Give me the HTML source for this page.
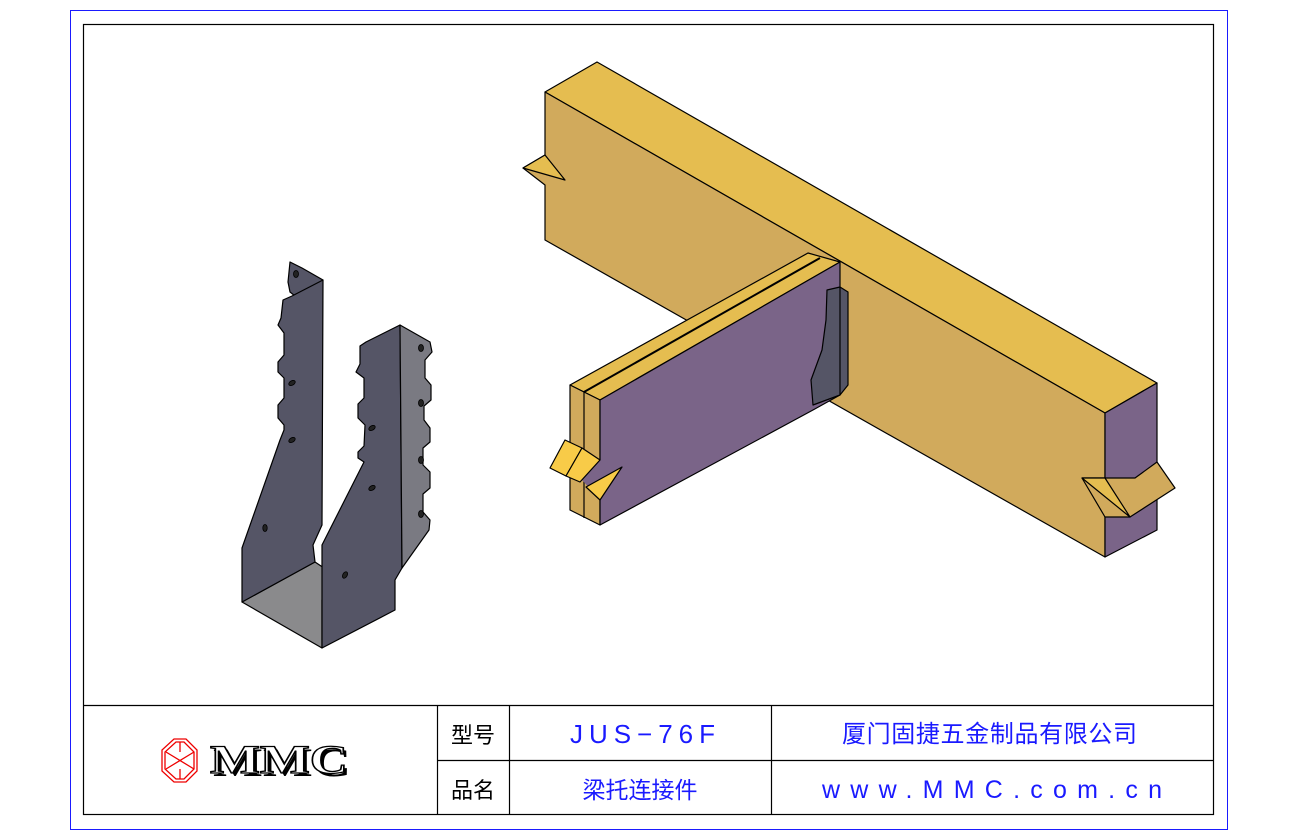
<!DOCTYPE html>
<html><head><meta charset="utf-8"><style>
html,body{margin:0;padding:0;background:#fff;}
svg{display:block;}
.t{font-family:"Liberation Sans","Noto Sans CJK SC",sans-serif;}
</style></head><body>
<svg width="1300" height="840" viewBox="0 0 1300 840" xmlns="http://www.w3.org/2000/svg">
<rect x="70.5" y="10.5" width="1157" height="819" fill="none" stroke="#1a1aff" stroke-width="1"/>
<rect x="83.5" y="24.5" width="1130" height="790" fill="none" stroke="#000" stroke-width="1.2"/>
<g stroke="#000" stroke-width="1.2" fill="none">
<line x1="83" y1="705.5" x2="1214" y2="705.5"/>
<line x1="437" y1="760.5" x2="1214" y2="760.5"/>
<line x1="437.5" y1="705" x2="437.5" y2="815"/>
<line x1="509.5" y1="705" x2="509.5" y2="815"/>
<line x1="771.5" y1="705" x2="771.5" y2="815"/>
</g>
<text class="t" x="473" y="743" font-size="22" text-anchor="middle" fill="#000">型号</text>
<text class="t" x="473" y="798" font-size="22" text-anchor="middle" fill="#000">品名</text>
<text class="t" x="570" y="743" font-size="26" fill="#1a1aff" textLength="145" lengthAdjust="spacing">JUS−76F</text>
<text class="t" x="640" y="798" font-size="23" text-anchor="middle" fill="#1a1aff">梁托连接件</text>
<text class="t" x="842" y="742" font-size="24" fill="#1a1aff" textLength="295" lengthAdjust="spacing">厦门固捷五金制品有限公司</text>
<text class="t" x="822" y="798" font-size="25" fill="#1a1aff" textLength="340" lengthAdjust="spacing">www.MMC.com.cn</text>
<g stroke="#e00" stroke-width="1.3" fill="none">
<polygon points="174,739 186,739 197,750 197,771 186,782 174,782 162,771 162,750"/>
<polygon points="176,742 184,742 194,752 194,769 184,779 176,779 165,769 165,752"/>
<path d="M166,752 L194,769 M194,752 L166,769 M180,742 L180,752 M180,769 L180,779"/>
</g>
<text x="213" y="776" font-family="Liberation Serif,serif" font-weight="bold" font-size="40" fill="#000" textLength="138" lengthAdjust="spacingAndGlyphs">MMC</text>
<text x="210" y="773" font-family="Liberation Serif,serif" font-weight="bold" font-size="40" fill="#fff" stroke="#000" stroke-width="1.3" textLength="138" lengthAdjust="spacingAndGlyphs">MMC</text>
<g stroke="#000" stroke-width="1.2" stroke-linejoin="round">
<polygon points="242,602 315,562 330,572 322,600 322,648" fill="#8a8a8c"/>
<polygon points="290,262 302,268 323,280 312,288 295,296 290,292 288,282" fill="#555566"/>
<polygon points="323,280 292,296 283,300 281,318 278,325 284,333 284,355 278,362 278,372 284,378 284,398 278,405 278,418 284,425 284,430 280,440 242,548 242,602 315,562 313,545 322,525" fill="#555566"/>
<polygon points="400,325 366,342 360,346 360,364 356,372 364,378 364,398 358,404 358,418 365,425 364,446 358,452 358,458 364,462 322,545 322,648 395,610 395,580 402,568" fill="#555566"/>
<polygon points="400,325 430,342 432,352 425,360 425,378 431,385 431,400 424,406 424,420 430,428 430,442 423,448 423,465 430,472 430,488 423,494 423,512 430,520 429,530 402,568" fill="#7a7a82"/>
</g>
<g fill="#222" stroke="#000" stroke-width="0.8">
<ellipse cx="296" cy="274" rx="2.5" ry="3.5"/>
<ellipse cx="292" cy="383" rx="3.5" ry="2.2" transform="rotate(-30 292 383)"/>
<ellipse cx="292" cy="440" rx="3.5" ry="2.2" transform="rotate(-30 292 440)"/>
<ellipse cx="265" cy="528" rx="2.2" ry="3.5"/>
<ellipse cx="372" cy="428" rx="3.5" ry="2.2" transform="rotate(-30 372 428)"/>
<ellipse cx="372" cy="488" rx="3.5" ry="2.2" transform="rotate(-30 372 488)"/>
<ellipse cx="345" cy="575" rx="2.2" ry="3.5" transform="rotate(30 345 575)"/>
<ellipse cx="421" cy="348" rx="2.5" ry="3.5"/>
<ellipse cx="421" cy="403" rx="2.5" ry="3.5"/>
<ellipse cx="421" cy="460" rx="2.5" ry="3.5"/>
<ellipse cx="421" cy="514" rx="2.5" ry="3.5"/>
</g>
<g stroke="#000" stroke-width="1.2" stroke-linejoin="round">
<polygon points="545,92 597,62 1157,383 1105,413" fill="#e5bd50"/>
<polygon points="545,92 1105,413 1105,557 545,240 545,185 523,168 545,155" fill="#d1aa5c"/>
<polygon points="523,168 545,155 565,180" fill="#e5bd50"/>
<polygon points="1105,413 1157,383 1157,530 1105,557" fill="#7a6488"/>
<polygon points="1082,478 1135,478 1157,462 1175,488 1130,517 1105,517" fill="#d1aa5c"/>
<polygon points="1082,478 1105,478 1130,517" fill="#e5bd50"/>
</g>
<g stroke="#000" stroke-width="1.2" stroke-linejoin="round">
<polygon points="570,385 808,253 840,262 600,400" fill="#e5bd50"/>
<polygon points="570,385 600,400 600,525 570,510" fill="#d1aa5c"/>
<line x1="584" y1="392" x2="820" y2="258" stroke-width="2"/>
<line x1="584" y1="392" x2="584" y2="518"/>
<polygon points="600,400 840,262 840,395 813,410 600,525" fill="#7a6488"/>
<polygon points="565,440 582,448 600,460 622,467 600,500 582,480" fill="#7a6488" stroke="none"/>
<polygon points="550,468 565,440 582,448 566,476" fill="#f8cb48"/>
<polygon points="566,476 582,448 600,460 580,482" fill="#f8cb48"/>
<polygon points="586,487 622,467 600,500" fill="#f8cb48"/>
<polygon points="827,290 840,287 848,292 848,385 840,395 813,405 811,380 822,350 826,320" fill="#555566"/>
<line x1="840" y1="287" x2="840" y2="395"/>
</g>
</svg>
</body></html>
